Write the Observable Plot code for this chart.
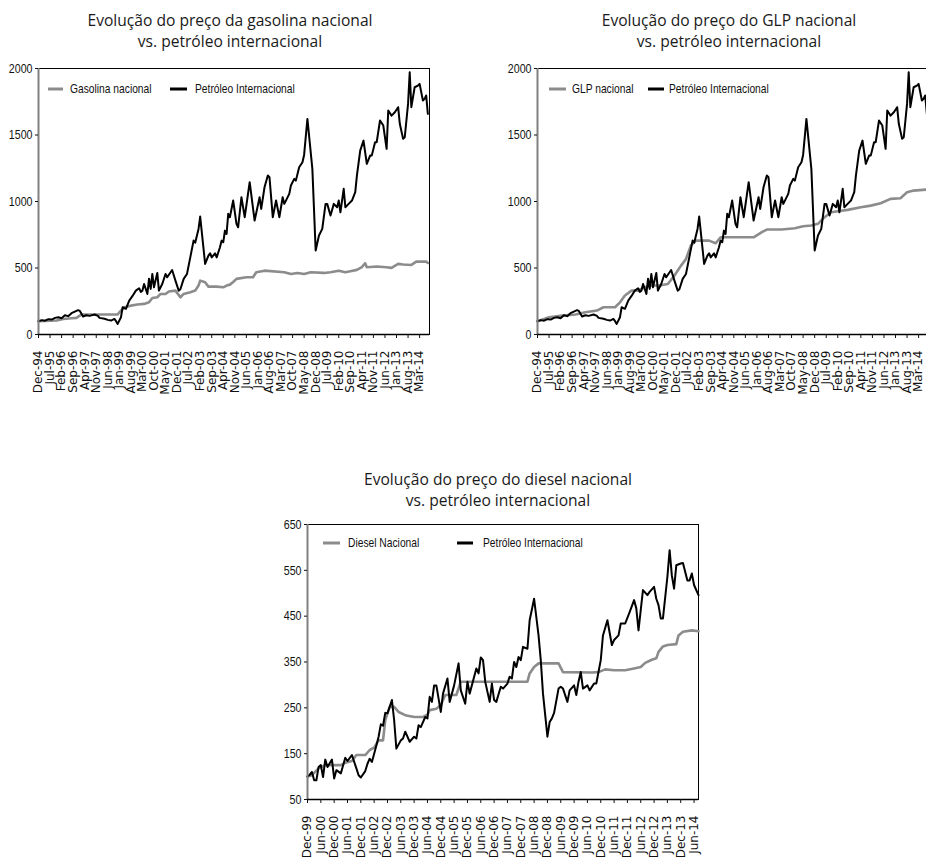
<!DOCTYPE html>
<html><head><meta charset="utf-8">
<script src="https://cdn.jsdelivr.net/npm/d3@7"></script>
<script src="https://cdn.jsdelivr.net/npm/@observablehq/plot@0.6"></script>
<style>
html,body{margin:0;padding:0;background:#fff;overflow:hidden;width:926px;height:858px;}
#page{position:relative;width:926px;height:858px;overflow:hidden;}
.title{position:absolute;font-family:"Open Sans","Noto Sans",sans-serif;font-size:15.6px;line-height:21px;text-align:center;color:#1a1a1a;white-space:nowrap;transform:translateX(-50%);}
.chart{position:absolute;}
.chart svg{max-width:none !important;}
.leg{position:absolute;font-family:"Liberation Sans",Arial,sans-serif;font-size:13.5px;color:#111;white-space:nowrap;line-height:14px;transform-origin:0 50%;transform:translateY(-50%) scaleX(0.76);}
.sw{position:absolute;height:3px;transform:translateY(-50%);}
</style>
</head><body><div id="page"></div>
<script>
// ---------- Tick labels ----------
const topTickLabels = ["Dec-94","Jul-95","Feb-96","Sep-96","Apr-97","Nov-97","Jun-98","Jan-99","Aug-99","Mar-00","Oct-00","May-01","Dec-01","Jul-02","Feb-03","Sep-03","Apr-04","Nov-04","Jun-05","Jan-06","Aug-06","Mar-07","Oct-07","May-08","Dec-08","Jul-09","Feb-10","Sep-10","Apr-11","Nov-11","Jun-12","Jan-13","Aug-13","Mar-14"];
const dieselTickLabels = ["Dec-99","Jun-00","Dec-00","Jun-01","Dec-01","Jun-02","Dec-02","Jun-03","Dec-03","Jun-04","Dec-04","Jun-05","Dec-05","Jun-06","Dec-06","Jun-07","Dec-07","Jun-08","Dec-08","Jun-09","Dec-09","Jun-10","Dec-10","Jun-11","Dec-11","Jun-12","Dec-12","Jun-13","Dec-13","Jun-14"];

// ---------- Series (month index from Dec-94 for top charts; from Dec-99 for diesel) ----------
const petroMonth = [0,2,4,6,8,10,12,14,16,18,20,22,24,25,27,29,31,34,36,37,40,42,44,46,47,48,50,51,53,55,57,59,61,62,63,64,66,67,68,69,70,72,73,75,77,78,81,83,85,86,88,90,92,94,95,97,98,101,103,104,105,107,108,110,111,112,113,114,115,116,118,120,121,123,125,128,131,134,135,137,139,140,142,144,146,148,149,152,153,155,156,158,160,161,163,166,168,170,172,174,175,177,179,181,182,183,185,186,188,190,192,193,195,197,199,201,202,204,205,207,209,211,212,214,216,218,219,221,222,224,225,226,228,230,231,233,234,235,236];
const petroValue = [100,108,104,115,112,125,130,122,145,138,160,172,183,178,135,145,140,150,140,125,118,110,105,117,100,80,130,205,193,255,290,330,348,320,330,380,305,420,343,455,355,463,330,380,455,430,485,405,330,340,418,455,580,706,690,794,887,531,593,611,580,610,580,656,706,694,781,756,907,882,1007,832,806,1032,882,1145,857,1032,944,1107,1195,1183,882,1007,882,1032,982,1057,1120,1170,1157,1258,1295,1350,1621,1245,631,744,794,982,982,894,982,957,1007,919,1095,957,982,1007,1070,1195,1383,1458,1283,1345,1345,1446,1446,1609,1571,1396,1684,1646,1671,1709,1584,1471,1483,1734,1972,1709,1859,1872,1884,1759,1772,1797,1659];

const gasMonth = [0,11,15,20,23,25,26,48,49,52,56,60,64,67,69,72,74,77,79,83,86,88,92,95,97,98,101,103,108,112,114,116,118,120,126,130,132,137,149,153,157,161,165,173,177,182,186,189,193,196,198,199,205,211,214,218,221,226,229,235,236];
const gasValue = [100,105,117,122,125,142,150,150,167,205,217,225,230,242,275,280,305,305,323,330,280,305,318,330,368,405,393,360,360,355,368,375,395,418,430,430,468,480,468,455,463,455,468,463,468,480,468,476,486,506,536,506,511,506,501,531,526,523,548,548,538];

const glpMonth = [0,7,15,23,29,36,40,47,50,53,57,61,65,69,74,79,83,87,90,93,96,100,104,108,111,124,131,136,139,148,156,161,166,170,174,178,182,188,196,202,208,214,220,224,228,236];
const glpValue = [100,130,142,150,167,180,205,205,242,293,330,330,355,368,368,380,443,518,568,669,706,706,706,686,731,731,731,769,789,789,799,814,819,832,882,919,927,937,957,969,987,1020,1025,1070,1082,1090];

const dieselPetroMonth = [0,1,2,3,4,5,6,7,8,9,11,12,13,15,17,18,20,22,23,24,26,27,28,29,31,32,33,34,35,36,38,39,40,42,43,44,46,48,49,50,51,53,54,55,56,57,58,60,61,63,64,66,68,69,71,72,73,76,77,78,79,80,82,83,84,85,87,88,90,91,92,93,94,95,96,97,99,100,102,104,105,106,108,109,110,111,113,114,115,117,118,120,121,122,123,124,126,127,129,130,132,133,135,137,138,140,141,143,145,147,148,149,150,151,153,154,156,157,158,159,160,162,163,164,165,166,168,169,171,172,173,174,176];
const dieselPetroValue = [100,104,110,92,92,121,125,99,137,121,137,96,114,107,141,134,147,118,103,98,112,128,139,132,168,187,214,211,239,238,267,223,161,179,183,198,176,187,183,212,208,230,227,274,263,299,299,241,281,314,263,299,347,288,259,307,281,336,325,360,354,307,263,303,267,263,296,292,303,318,314,350,339,361,354,383,379,441,488,408,354,281,187,219,227,239,292,296,292,263,288,299,278,307,328,292,299,288,303,303,354,408,441,387,398,408,434,434,459,485,467,419,463,507,496,503,514,488,474,445,445,536,594,539,510,561,565,566,528,528,543,518,496];

const dieselMonth = [0,2,5,8,15,17,20,22,26,28,30,32,34,35,37,39,41,44,48,52,54,55,58,60,62,67,69,88,99,100,102,104,113,115,128,131,134,138,143,147,150,152,155,157,158,160,162,166,167,169,173,176];
const dieselValue = [100,103,118,125,125,130,134,147,147,158,163,179,179,223,252,252,241,234,230,230,235,245,248,256,278,278,307,307,307,325,339,347,347,328,327,328,334,332,332,336,339,348,355,358,372,384,387,389,408,416,419,417];

// ---------- Builders ----------
const page = document.getElementById("page");
const toRows = (ms, vs) => ms.map((m, k) => ({m, v: vs[k]}));
const GRAY = "#8c8c8c";
const tickFont = "'DejaVu Sans', Verdana, sans-serif";
const yFont = "'Liberation Sans', Arial, sans-serif";

function addTitle(cx, top, l1, l2) {
  const d = document.createElement("div");
  d.className = "title";
  d.style.left = cx + "px"; d.style.top = top + "px";
  d.innerHTML = l1 + "<br>" + l2;
  page.appendChild(d);
}
function addLegend(y, items) {
  for (const it of items) {
    const s = document.createElement("div");
    s.className = "sw";
    s.style.left = it.x0 + "px"; s.style.width = (it.x1 - it.x0) + "px";
    s.style.top = y + "px"; s.style.background = it.color;
    page.appendChild(s);
    const t = document.createElement("div");
    t.className = "leg";
    t.style.left = it.tx + "px"; t.style.top = y + "px";
    t.textContent = it.label;
    page.appendChild(t);
  }
}
function addChart({left, top, width, height, mt, mr, mb, ml, xMax, yDomain, yTicks, tickLabels, step, nat, petro}) {
  const ticks = tickLabels.map((_, k) => k * step);
  const svg = Plot.plot({
    width, height, marginTop: mt, marginRight: mr, marginBottom: mb, marginLeft: ml,
    x: {domain: [0, xMax]},
    y: {domain: yDomain},
    style: {background: "transparent", color: "#111", maxWidth: "none"},
    marks: [
      Plot.frame({stroke: "#000", strokeWidth: 1}),
      Plot.line(nat, {x: "m", y: "v", stroke: GRAY, strokeWidth: 2.6}),
      Plot.line(petro, {x: "m", y: "v", stroke: "#000", strokeWidth: 2}),
      Plot.ruleX([0], {stroke: "#808080", strokeWidth: 2}),
      Plot.ruleY([yDomain[0]], {stroke: "#000", strokeWidth: 1.5}),
      Plot.axisY({ticks: yTicks, tickSize: 3, tickPadding: 3, fontSize: 13, fontFamily: yFont, tickFormat: d => String(d), label: null}),
      Plot.axisX({ticks, tickSize: 4, tickPadding: 12, tickRotate: -90, fontSize: 12, fontFamily: tickFont,
                  tickFormat: d => tickLabels[Math.round(d / step)], label: null})
    ]
  });
  svg.style.maxWidth = "none";
  const wrap = document.createElement("div");
  wrap.className = "chart";
  wrap.style.left = left + "px"; wrap.style.top = top + "px";
  wrap.style.width = width + "px"; wrap.style.height = height + "px";
  wrap.appendChild(svg);
  page.appendChild(wrap);
  // condense y tick labels (reference uses a condensed face)
  svg.querySelectorAll('g[aria-label="y-axis tick label"] text').forEach(t => {
    const w = t.getComputedTextLength();
    t.setAttribute("textLength", (w * 0.82).toFixed(1));
    t.setAttribute("lengthAdjust", "spacingAndGlyphs");
  });
}

const petroRows = toRows(petroMonth, petroValue);

// Gasolina
addTitle(230, 10, "Evolução do preço da gasolina nacional", "vs. petróleo internacional");
addChart({left: 0, top: 60, width: 440, height: 340, mt: 8, mr: 11, mb: 66, ml: 38,
  xMax: 237, yDomain: [0, 2000], yTicks: [0, 500, 1000, 1500, 2000],
  tickLabels: topTickLabels, step: 7, nat: toRows(gasMonth, gasValue), petro: petroRows});
addLegend(89, [
  {x0: 48, x1: 63, tx: 70, color: GRAY, label: "Gasolina nacional"},
  {x0: 170, x1: 187, tx: 195, color: "#000", label: "Petróleo Internacional"}
]);

// GLP
addTitle(729, 10, "Evolução do preço do GLP nacional", "vs. petróleo internacional");
addChart({left: 499, top: 60, width: 440, height: 340, mt: 8, mr: 11, mb: 66, ml: 38,
  xMax: 237, yDomain: [0, 2000], yTicks: [0, 500, 1000, 1500, 2000],
  tickLabels: topTickLabels, step: 7, nat: toRows(glpMonth, glpValue), petro: petroRows});
addLegend(89, [
  {x0: 549, x1: 566, tx: 572, color: GRAY, label: "GLP nacional"},
  {x0: 648, x1: 664, tx: 669, color: "#000", label: "Petróleo Internacional"}
]);

// Diesel
addTitle(498, 469, "Evolução do preço do diesel nacional", "vs. petróleo internacional");
addChart({left: 270, top: 516, width: 440, height: 345, mt: 8, mr: 12, mb: 62, ml: 37,
  xMax: 176, yDomain: [50, 650], yTicks: [50, 150, 250, 350, 450, 550, 650],
  tickLabels: dieselTickLabels, step: 6, nat: toRows(dieselMonth, dieselValue), petro: toRows(dieselPetroMonth, dieselPetroValue)});
addLegend(543, [
  {x0: 323, x1: 340, tx: 348, color: GRAY, label: "Diesel Nacional"},
  {x0: 457, x1: 473, tx: 483, color: "#000", label: "Petróleo Internacional"}
]);
</script>
</body></html>
